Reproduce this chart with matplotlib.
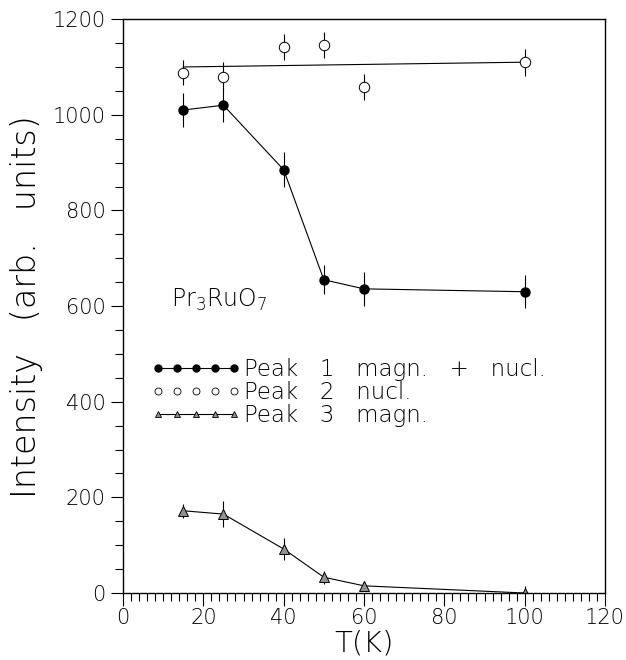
import matplotlib
matplotlib.use("Agg")
import matplotlib.pyplot as plt
from matplotlib.ticker import MultipleLocator

# temperatures (K)
temp = [15, 25, 40, 50, 60, 100]

# Peak 1 magn. + nucl.
peak1 = [1010, 1020, 885, 655, 636, 630]
peak1_err = [35, 35, 37, 30, 35, 35]

# Peak 2 nucl.
peak2 = [1088, 1080, 1142, 1146, 1058, 1110]
peak2_err = [26, 30, 27, 27, 28, 28]
fit2_t = [15, 100]
fit2_y = [1100, 1110]

# Peak 3 magn.
peak3 = [172, 165, 92, 33, 15, 0]
peak3_err = [15, 28, 22, 14, 10, 15]

labels = ['Peak   1   magn.   +   nucl.', 'Peak   2   nucl.', 'Peak   3   magn.']

plt.rcParams['font.family'] = ['DejaVu Sans']
plt.rcParams['font.weight'] = 'light'
plt.rcParams['axes.labelweight'] = 'light'

fig = plt.figure(figsize=(6.26, 6.6), dpi=100)
ax = fig.add_axes([0.1965, 0.1015, 0.77, 0.8695])

lw = 0.8
ax.errorbar(temp, peak1, yerr=peak1_err, fmt='-o', color='black', ms=6.5,
            lw=lw, elinewidth=lw, capsize=0)
ax.errorbar(temp, peak2, yerr=peak2_err, fmt='o', mfc='white', mec='black',
            ms=7.5, mew=0.7, color='black', elinewidth=lw, capsize=0)
ax.plot(fit2_t, fit2_y, '-', color='black', lw=lw)
ax.errorbar(temp, peak3, yerr=peak3_err, fmt='-^', color='black', mfc='#909090',
            mec='black', ms=6.5, mew=0.7, lw=lw, elinewidth=lw, capsize=0)

# legend handles
h1, = ax.plot([], [], '-o', color='black', ms=5, lw=lw)
h2, = ax.plot([], [], 'o', mfc='white', mec='black', ms=5, mew=0.6)
h3, = ax.plot([], [], '-^', color='black', mfc='#909090', ms=5, mew=0.6, lw=lw)
ax.legend([h1, h2, h3], labels,
          numpoints=5, handlelength=3.9, handletextpad=0.15, labelspacing=0.0,
          frameon=False, fontsize=16.5, loc='upper left',
          bbox_to_anchor=(0.04, 0.425), borderaxespad=0)

ax.text(12, 613, 'Pr$_3$RuO$_7$', fontsize=17, va='center', ha='left')

ax.set_xlim(0, 120)
ax.set_ylim(0, 1200)
ax.xaxis.set_major_locator(MultipleLocator(20))
ax.xaxis.set_minor_locator(MultipleLocator(2))
ax.yaxis.set_major_locator(MultipleLocator(200))
ax.yaxis.set_minor_locator(MultipleLocator(50))
ax.tick_params(which='both', direction='out', top=False, right=False,
               width=0.8, labelsize=15)
ax.tick_params(which='major', length=9)
ax.tick_params(which='minor', length=6)
ax.tick_params(axis='x', which='major', pad=2)
for s in ax.spines.values():
    s.set_linewidth(1.0)

ax.set_xlabel('T(K)', fontsize=21)
ax.xaxis.set_label_coords(0.5, -0.064)
ax.set_ylabel('Intensity   (arb.   units)', fontsize=24)
ax.yaxis.set_label_coords(-0.165, 0.5)

fig.savefig('out.png', dpi=100)
